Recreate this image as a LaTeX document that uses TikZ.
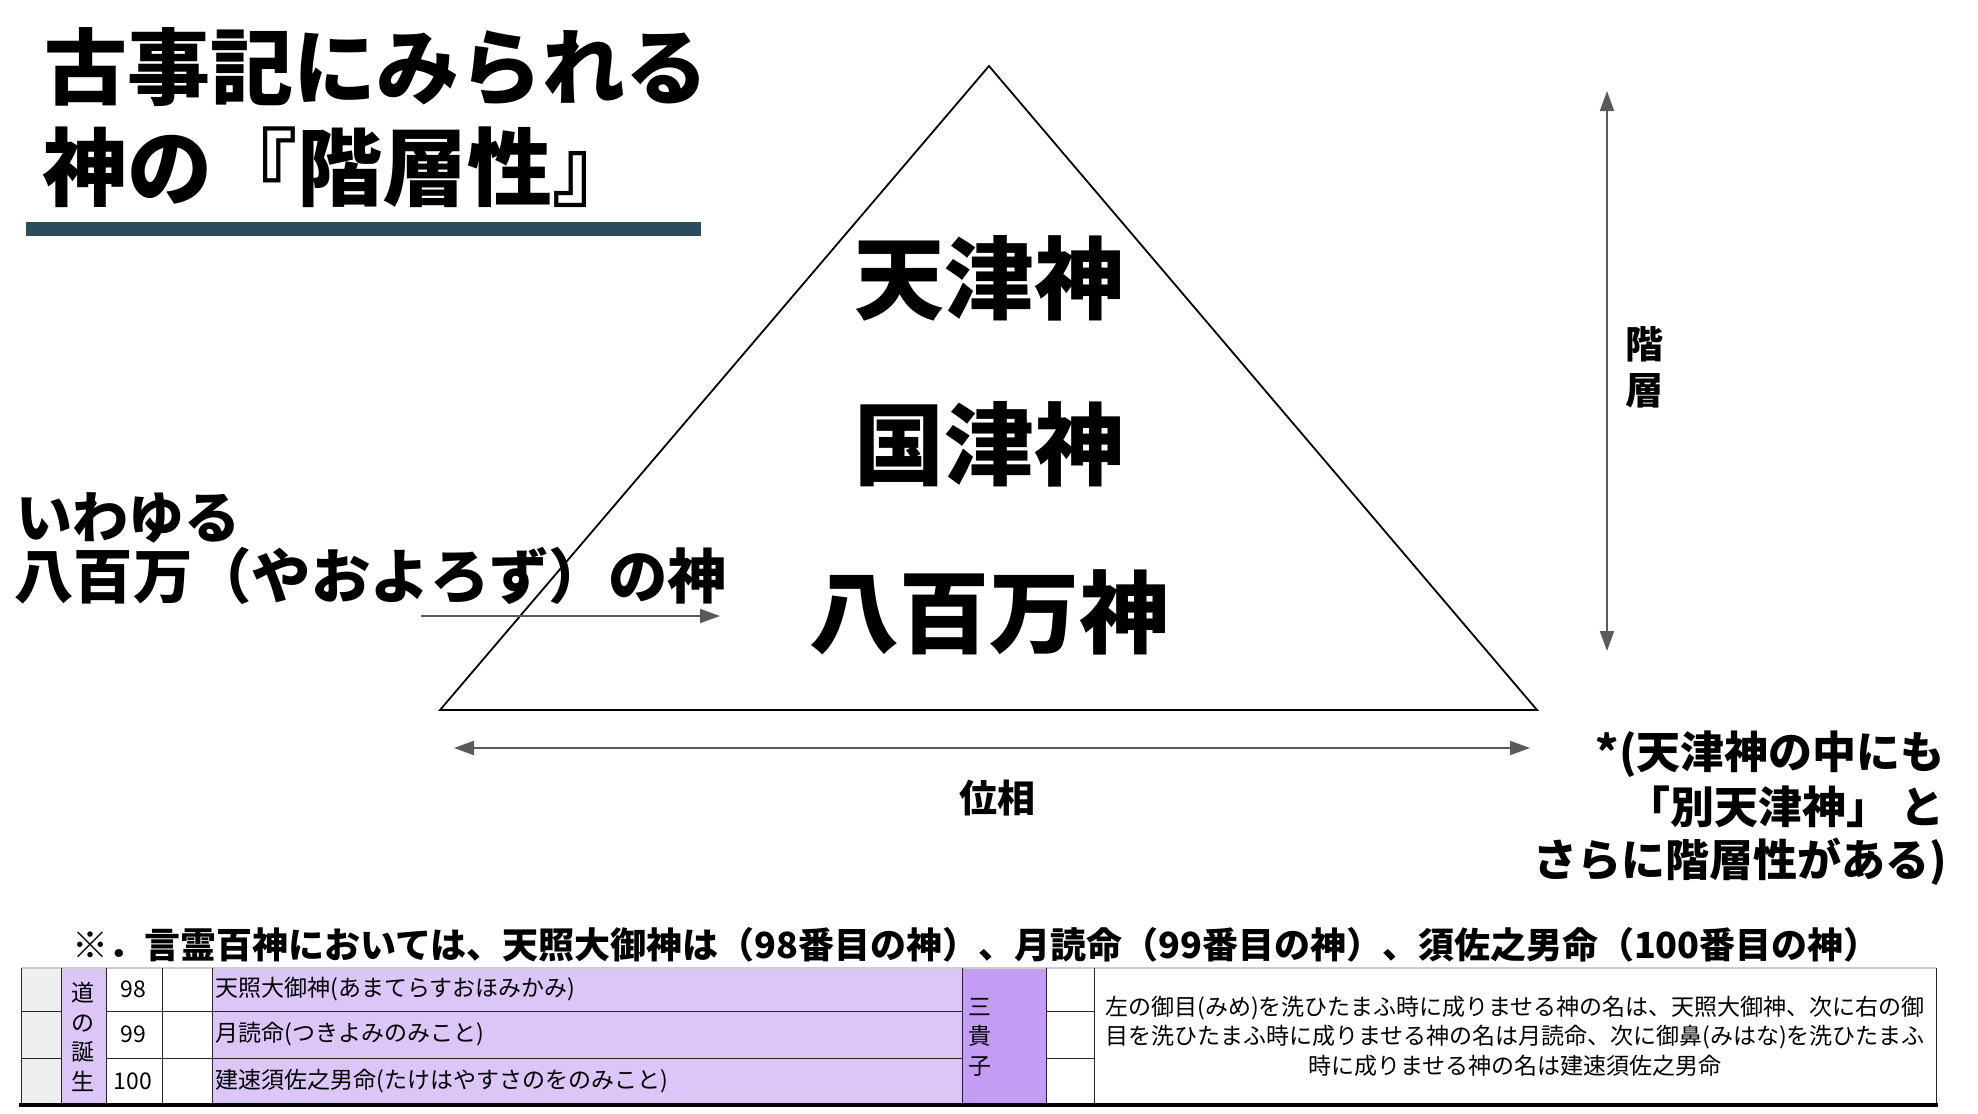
\documentclass[tikz,border=0pt]{standalone}
\usepackage{fontspec}
\setmainfont{Noto Sans CJK JP}
\usetikzlibrary{arrows.meta}

\definecolor{barteal}{HTML}{2B4C5B}
\definecolor{lilac}{HTML}{DCC6F8}
\definecolor{violetcell}{HTML}{C39DF4}
\definecolor{cellgray}{HTML}{EFEFEF}
\definecolor{axisgray}{HTML}{5A5A5A}

\tikzset{
  titletext/.style={anchor=west, inner sep=0pt, font=\fontsize{41.5}{45}\selectfont\bfseries},
  godtext/.style={inner sep=0pt, font=\fontsize{45}{50}\selectfont\bfseries},
  lefttext/.style={anchor=west, inner sep=0pt, font=\fontsize{29}{32}\selectfont\bfseries},
  axislabel/.style={inner sep=0pt, align=center, font=\fontsize{19}{23}\selectfont\bfseries},
  axisarrow/.style={draw=axisgray, line width=1pt, {Triangle[length=10pt,width=7pt]}-{Triangle[length=10pt,width=7pt]}},
  notetext/.style={anchor=east, inner sep=0pt, font=\fontsize{22}{26}\selectfont\bfseries},
  celltext/.style={inner sep=0pt, font=\fontsize{11.5}{14.75}\selectfont},
  gridline/.style={draw=black!85, line width=0.5pt}
}

\begin{document}
\begin{tikzpicture}[x=0.5pt, y=-0.5pt]
\useasboundingbox (0,0) rectangle (1978,1114);

% title
\node[titletext] (title1) at (44,67) {古事記にみられる};
\node[titletext, font=\fontsize{42.5}{45}\selectfont\bfseries] (title2) at (42,167) {神の『階層性』};
\fill[barteal] (26,222) rectangle (701,236);

% pyramid
\coordinate (apex) at (989,66);
\coordinate (baseL) at (440,710);
\coordinate (baseR) at (1537,710);
\path[draw, line width=0.9pt, line join=miter] (apex) -- (baseL) -- (baseR) -- cycle;

\node[godtext] (amatsu) at (989,278) {天津神};
\node[godtext] (kunitsu) at (989,444) {国津神};
\node[godtext] (yaoyorozu) at (989,612) {八百万神};

% left remark
\node[lefttext, font=\fontsize{28}{32}\selectfont\bfseries] (iwayuru) at (16,518) {いわゆる};
\node[lefttext, font=\fontsize{29.7}{32}\selectfont\bfseries] (yao) at (14,576) {八百万（やおよろず）の神};
\coordinate (pointS) at (421,616);
\coordinate (pointE) at (720,616);
\path[draw=axisgray, line width=1pt, -{Triangle[length=10pt,width=7pt]}] (pointS) -- (pointE);

% axes
\coordinate (hierTop) at (1607,91);
\coordinate (hierBot) at (1607,651);
\path[axisarrow] (hierTop) -- (hierBot);
\node[axislabel] (kaiso) at (1644,367) {階\\層};

\coordinate (phaseL) at (454,748);
\coordinate (phaseR) at (1530,748);
\path[axisarrow] (phaseL) -- (phaseR);
\node[axislabel] (iso) at (997,798) {位相};

% note on the right
\node[notetext] (note1) at (1945,754) {*(天津神の中にも};
\node[notetext] (note2) at (1945,807) {「別天津神」 と};
\node[notetext] (note3) at (1947,862) {さらに階層性がある)};

% table heading
\node[inner sep=0pt, font=\fontsize{18}{20}\selectfont\bfseries] (kotodama) at (976,945)
  {※．言霊百神においては、天照大御神は（98番目の神）、月読命（99番目の神）、須佐之男命（100番目の神）};

% table
\fill[cellgray] (21,968) rectangle (61,1104);
\fill[lilac] (61,968) rectangle (106,1104);
\fill[lilac] (212,968) rectangle (962,1104);
\fill[violetcell] (962,968) rectangle (1046,1104);
\path[draw=black!20, line width=0.6pt] (21,968) -- (1936,968);
\foreach \cx in {21,61,106,162,212,962,1046,1094,1936}
  \path[gridline] (\cx,968) -- (\cx,1104);
\foreach \ry in {1011,1058} {
  \path[gridline] (21,\ry) -- (61,\ry);
  \path[gridline] (106,\ry) -- (962,\ry);
  \path[gridline] (1046,\ry) -- (1094,\ry);
}
\path[draw=black, line width=2pt] (19,1105) -- (1938,1105);

\node[celltext, align=center] (michi) at (83,1037) {道\\の\\誕\\生};
\node[celltext] (n98) at (133,989.5) {98};
\node[celltext] (n99) at (133,1034.5) {99};
\node[celltext] (n100) at (133,1081) {100};
\node[celltext, anchor=west] (amaterasu) at (215,989.5) {天照大御神(あまてらすおほみかみ)};
\node[celltext, anchor=west] (tsukuyomi) at (215,1034.5) {月読命(つきよみのみこと)};
\node[celltext, anchor=west] (susanoo) at (215,1081) {建速須佐之男命(たけはやすさのをのみこと)};
\node[celltext, align=center] (sankishi) at (980,1037) {三\\貴\\子};
\node[celltext, align=center] (misogi) at (1515,1036)
  {左の御目(みめ)を洗ひたまふ時に成りませる神の名は、天照大御神、次に右の御\\
   目を洗ひたまふ時に成りませる神の名は月読命、次に御鼻(みはな)を洗ひたまふ\\
   時に成りませる神の名は建速須佐之男命};
\end{tikzpicture}
\end{document}
